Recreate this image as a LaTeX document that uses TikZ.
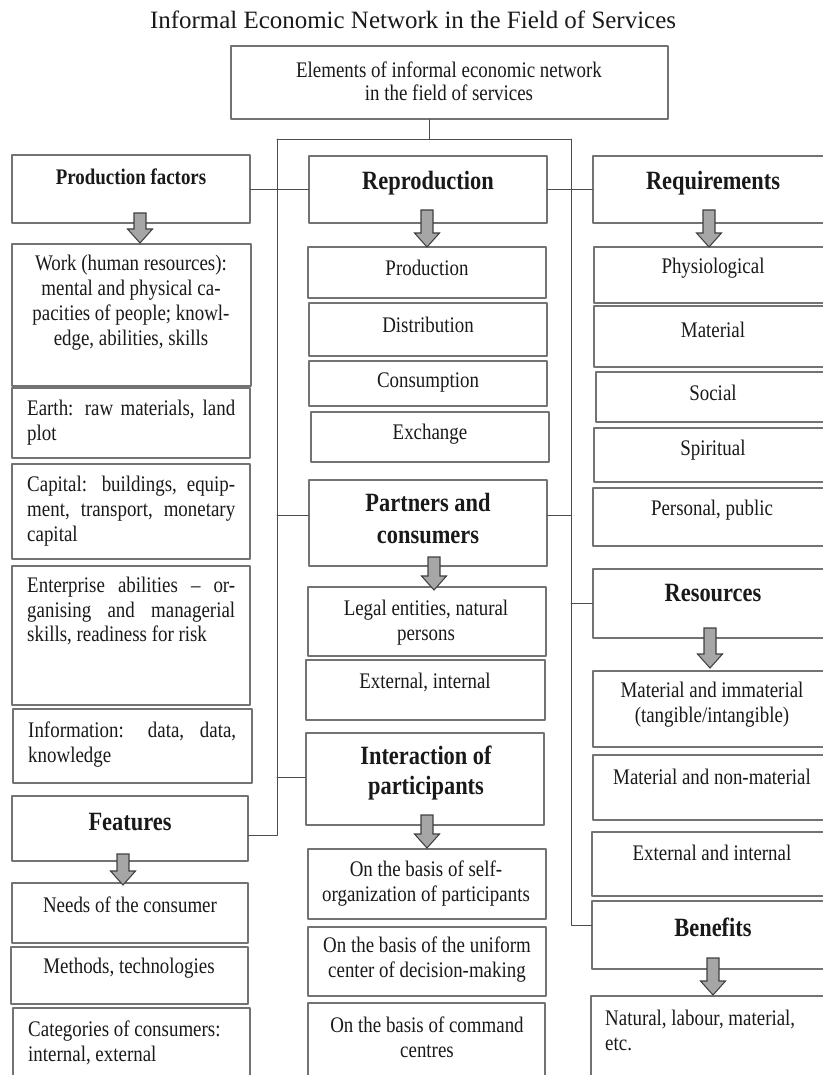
\documentclass[tikz,border=0pt]{standalone}
\usepackage{fontspec}
\setmainfont{Liberation Serif}
\newfontfamily\diagfont{Liberation Serif}[FakeStretch=0.85]
\usepackage{tikz}
\usetikzlibrary{fit}
\newcommand{\jline}[1]{\makebox[177.5pt][s]{#1}}

\tikzset{
  box/.style={draw=black!55, line width=1.2pt, inner sep=0pt},
  txt/.style={inner sep=0pt, align=center, text=black!90, font=\diagfont\fontsize{19}{21.3}\selectfont},
  head/.style={txt, font=\diagfont\bfseries\fontsize{22.5}{27}\selectfont},
  link/.style={draw=black!70, line width=0.8pt},
  arrowbody/.style={draw=black!75, fill=black!35, line width=0.9pt, line join=miter},
  downarr/.pic={\draw[arrowbody] (-6,0) -- (6,0) -- (6,#1-14) -- (12.5,#1-14) -- (0,#1) -- (-12.5,#1-14) -- (-6,#1-14) -- cycle;}
}

\begin{document}
\begin{tikzpicture}[line cap=round,line join=round,x=0.03cm,y=-0.03cm]
\useasboundingbox (0,0) rectangle (823,1075);
\clip (0,0) rectangle (823,1075);
% title and top box
\node[inner sep=0pt, text=black!90, font=\fontsize{21.3}{25}\selectfont] (title) at (413,20) {Informal Economic Network in the Field of Services};
\node[box, fit={(231,46) (668,119)}] (top) {};
\node[txt, font=\diagfont\fontsize{19}{19.6}\selectfont] (top-t) at (449,81.5) {Elements of informal economic network\\in the field of services};
% left column
\node[box, fit={(12,155) (250,223)}] (prodf) {};
\node[txt, font=\diagfont\bfseries\fontsize{19}{21.3}\selectfont] (prodf-t) at (131,177) {Production factors};
\node[box, fit={(12,244) (251,386)}] (work) {};
\node[txt] (work-t) at (131,302.5) {Work (human resources):\\mental and physical ca-\\pacities of people; knowl-\\edge, abilities, skills};
\node[box, fit={(12,388) (250,458)}] (earth) {};
\node[txt, align=left, anchor=west] (earth-t) at (27,423) {\jline{Earth: raw materials, land}\\plot};
\node[box, fit={(12,464) (250,559)}] (capit) {};
\node[txt, align=left, anchor=west] (capit-t) at (27,511) {\jline{Capital: buildings, equip-}\\\jline{ment, transport, monetary}\\capital};
\node[box, fit={(12,566) (250,705)}] (enter) {};
\node[txt, align=left, anchor=west] (enter-t) at (27,611) {\jline{Enterprise abilities – or-}\\\jline{ganising and managerial}\\skills, readiness for risk};
\node[box, fit={(13,709) (252,783)}] (info) {};
\node[txt, align=left, anchor=west] (info-t) at (28,744.5) {\jline{Information: data, data,}\\knowledge};
\node[box, fit={(12,796) (248,861)}] (feat) {};
\node[head] (feat-t) at (130,822) {Features};
\node[box, fit={(12,883) (248,943)}] (needs) {};
\node[txt] (needs-t) at (130,905) {Needs of the consumer};
\node[box, fit={(11,947) (248,1004)}] (meth) {};
\node[txt] (meth-t) at (129,968) {Methods, technologies};
\node[box, fit={(13,1008) (250,1090)}] (categ) {};
\node[txt, align=left, anchor=west] (categ-t) at (28,1042.5) {Categories of consumers:\\internal, external};
% middle column
\node[box, fit={(309,156) (547,223)}] (repro) {};
\node[head] (repro-t) at (428,183) {Reproduction};
\node[box, fit={(308,247) (546,298)}] (prodn) {};
\node[txt] (prodn-t) at (427,268) {Production};
\node[box, fit={(309,303) (547,356)}] (distr) {};
\node[txt] (distr-t) at (428,325) {Distribution};
\node[box, fit={(309,361) (547,406)}] (consu) {};
\node[txt] (consu-t) at (428,382) {Consumption};
\node[box, fit={(311,412) (549,462)}] (exch) {};
\node[txt] (exch-t) at (430,434) {Exchange};
\node[box, fit={(309,480) (547,566)}] (part) {};
\node[head, font=\diagfont\bfseries\fontsize{22.5}{27.3}\selectfont] (part-t) at (428,519) {Partners and\\consumers};
\node[box, fit={(308,587) (546,656)}] (legal) {};
\node[txt] (legal-t) at (426,622.5) {Legal entities, natural\\persons};
\node[box, fit={(306,660) (545,720)}] (extint) {};
\node[txt] (extint-t) at (425,682) {External, internal};
\node[box, fit={(306,733) (544,825)}] (inter) {};
\node[head, font=\diagfont\bfseries\fontsize{22.5}{25.6}\selectfont] (inter-t) at (426,773) {Interaction of\\participants};
\node[box, fit={(308,849) (546,919)}] (selfo) {};
\node[txt] (selfo-t) at (426,884) {On the basis of self-\\organization of participants};
\node[box, fit={(308,927) (546,996)}] (unif) {};
\node[txt] (unif-t) at (427,960) {On the basis of the uniform\\center of decision-making};
\node[box, fit={(308,1003) (545,1090)}] (comm) {};
\node[txt] (comm-t) at (427,1037.5) {On the basis of command\\centres};
% right column
\node[box, fit={(593,156) (835,223)}] (req) {};
\node[head] (req-t) at (713,183) {Requirements};
\node[box, fit={(594,247) (835,303)}] (phys) {};
\node[txt] (phys-t) at (713,268) {Physiological};
\node[box, fit={(594,306) (835,367)}] (mat) {};
\node[txt] (mat-t) at (713,330) {Material};
\node[box, fit={(596,372) (835,422)}] (social) {};
\node[txt] (social-t) at (713,393) {Social};
\node[box, fit={(594,428) (835,482)}] (spirit) {};
\node[txt] (spirit-t) at (713,450) {Spiritual};
\node[box, fit={(593,488) (835,546)}] (perspub) {};
\node[txt] (perspub-t) at (712,510) {Personal, public};
\node[box, fit={(593,569) (835,638)}] (res) {};
\node[head] (res-t) at (713,593) {Resources};
\node[box, fit={(593,671) (835,747)}] (matimm) {};
\node[txt] (matimm-t) at (712,704.5) {Material and immaterial\\(tangible/intangible)};
\node[box, fit={(593,755) (835,820)}] (matnon) {};
\node[txt] (matnon-t) at (712,777) {Material and non-material};
\node[box, fit={(592,832) (835,896)}] (extand) {};
\node[txt] (extand-t) at (712,853) {External and internal};
\node[box, fit={(592,901) (835,969)}] (benef) {};
\node[head] (benef-t) at (713,927) {Benefits};
\node[box, fit={(591,996) (835,1090)}] (natur) {};
\node[txt, align=left, anchor=west] (natur-t) at (605,1030) {Natural, labour, material,\\etc.};
% block arrows
\pic at (140,213) {downarr=30};
\pic at (123,854) {downarr=31};
\pic at (427,210) {downarr=37};
\pic at (434,557) {downarr=33};
\pic at (427,815) {downarr=33};
\pic at (709,210) {downarr=37};
\pic at (710,628) {downarr=40};
\pic at (713,958) {downarr=37};
% connectors
\coordinate (j0) at (429,139);
\coordinate (jl) at (277,139);
\coordinate (jr) at (571,139);
\coordinate (l2) at (277,515);
\coordinate (l3) at (277,777);
\coordinate (l4) at (277,835);
\coordinate (r2) at (571,515);
\coordinate (r3) at (571,603);
\coordinate (r4) at (571,925);
\draw[link] (top.south -| j0) -- (j0);
\draw[link] (jl) -- (jr);
\draw[link] (jl) -- (l4) -- (l4 -| feat.east);
\draw[link] (jr) -- (r4) -- (r4 -| benef.west);
\draw[link] (prodf.east) -- (prodf.east -| repro.west);
\draw[link] (repro.east) -- (repro.east -| req.west);
\draw[link] (l2) -- (l2 -| part.west);
\draw[link] (l3) -- (l3 -| inter.west);
\draw[link] (r2 -| part.east) -- (r2);
\draw[link] (r3) -- (r3 -| res.west);
\end{tikzpicture}
\end{document}
